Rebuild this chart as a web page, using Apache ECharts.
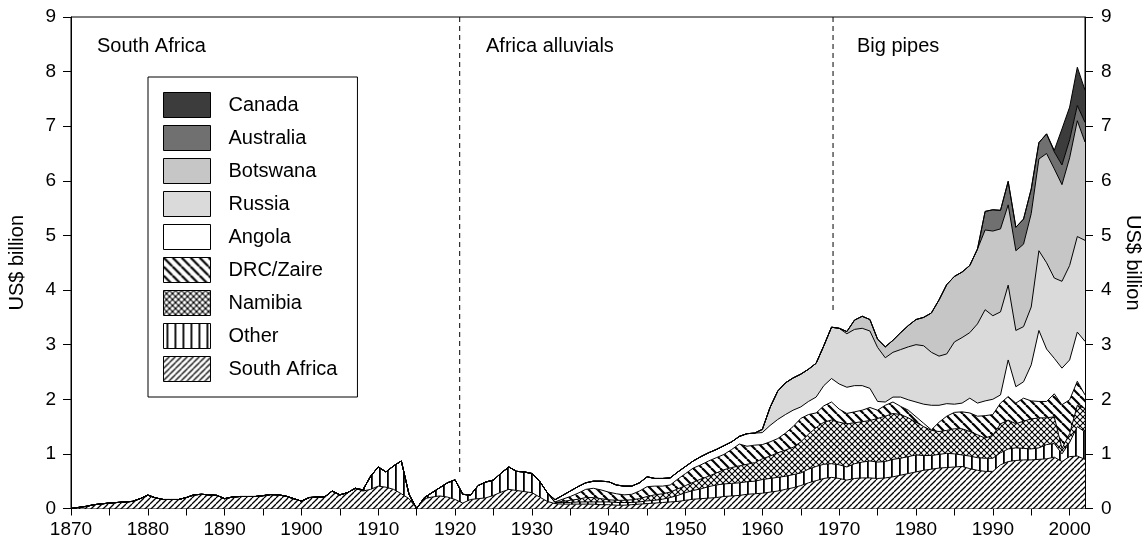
<!DOCTYPE html>
<html>
<head>
<meta charset="utf-8">
<script src="https://cdn.jsdelivr.net/npm/echarts@6/dist/echarts.min.js"></script>
<style>
  html, body { margin: 0; padding: 0; background: #fff; }
  #chart { width: 1144px; height: 547px; }
</style>
</head>
<body>
<div id="chart"></div>
<script>
// ---------------- DATA (US$ billion, annual) ----------------
const firstYear = 1870;
const lastYear = 2002;

const southAfricaStart = 1870;
const southAfrica = [
  0, 0.02, 0.04, 0.07, 0.085, 0.10, 0.11, 0.12, 0.13, 0.18,
  0.245, 0.195, 0.165, 0.165, 0.165, 0.20, 0.25, 0.26, 0.25, 0.24,
  0.18, 0.21, 0.22, 0.22, 0.22, 0.235, 0.255, 0.25, 0.225, 0.18,
  0.135, 0.20, 0.21, 0.21, 0.32, 0.25, 0.29, 0.37, 0.32, 0.35,
  0.41, 0.39, 0.35, 0.27, 0.18, 0.00, 0.18, 0.21, 0.23, 0.21,
  0.165, 0.10, 0.165, 0.18, 0.195, 0.24, 0.30, 0.35, 0.33, 0.31,
  0.29, 0.21, 0.13, 0.09, 0.08, 0.08, 0.08, 0.08, 0.08, 0.07,
  0.07, 0.06, 0.06, 0.07, 0.08, 0.09, 0.10, 0.11, 0.12, 0.13,
  0.15, 0.17, 0.18, 0.19, 0.20, 0.22, 0.23, 0.24, 0.26, 0.27,
  0.28, 0.30, 0.32, 0.35, 0.38, 0.42, 0.47, 0.51, 0.55, 0.57,
  0.55, 0.52, 0.55, 0.56, 0.56, 0.55, 0.56, 0.58, 0.61, 0.64,
  0.67, 0.70, 0.72, 0.74, 0.75, 0.76, 0.77, 0.73, 0.70, 0.68,
  0.68, 0.80, 0.86, 0.88, 0.89, 0.89, 0.90, 0.91, 0.94, 0.86,
  0.95, 0.96, 0.90
];

const otherStart = 1908;
const other = [
  0.02, 0.24, 0.35, 0.28, 0.43, 0.60, 0.08, 0, 0.02, 0.08, 0.15, 0.26,
  0.36, 0.16, 0.08, 0.24, 0.29, 0.28, 0.35, 0.41, 0.35, 0.36,
  0.35, 0.29, 0.16, 0.02, 0.03, 0.03, 0.04, 0.04, 0.04, 0.05,
  0.05, 0.05, 0.05, 0.04, 0.04, 0.05, 0.05, 0.06, 0.08, 0.11,
  0.14, 0.16, 0.18, 0.21, 0.23, 0.23, 0.23, 0.23, 0.23, 0.23,
  0.25, 0.25, 0.25, 0.24, 0.24, 0.23, 0.25, 0.26, 0.26, 0.25,
  0.25, 0.24, 0.27, 0.29, 0.31, 0.30, 0.30, 0.32, 0.31, 0.31,
  0.31, 0.27, 0.25, 0.25, 0.26, 0.24, 0.21, 0.23, 0.23, 0.24,
  0.24, 0.22, 0.23, 0.23, 0.21, 0.20, 0.21, 0.26, 0.25, 0.14,
  0.26, 0.54, 0.50
];

const namibiaStart = 1933;
const namibia = [
  0.00, 0.02, 0.04, 0.05, 0.08, 0.08, 0.06,
  0.04, 0.04, 0.04, 0.05, 0.06, 0.08, 0.10, 0.10, 0.10, 0.12,
  0.13, 0.15, 0.18, 0.19, 0.22, 0.26, 0.29, 0.31, 0.32, 0.34,
  0.38, 0.41, 0.45, 0.48, 0.50, 0.57, 0.64, 0.71, 0.77, 0.80,
  0.78, 0.79, 0.75, 0.74, 0.74, 0.80, 0.83, 0.84, 0.80, 0.71,
  0.60, 0.53, 0.46, 0.42, 0.42, 0.46, 0.48, 0.45, 0.42, 0.37,
  0.42, 0.53, 0.53, 0.44, 0.50, 0.55, 0.55, 0.49, 0.49, 0.10,
  0.16, 0.39, 0.43
];

const drcStart = 1933;
const drc = [
  0.01, 0.04, 0.07, 0.11, 0.15, 0.17, 0.16,
  0.14, 0.12, 0.10, 0.10, 0.14, 0.18, 0.16, 0.14, 0.13, 0.18,
  0.22, 0.26, 0.26, 0.28, 0.28, 0.28, 0.33, 0.40, 0.33, 0.32,
  0.26, 0.26, 0.26, 0.31, 0.38, 0.43, 0.36, 0.27, 0.30, 0.33,
  0.24, 0.19, 0.20, 0.21, 0.24, 0.15, 0.20, 0.21, 0.15, 0.14,
  0.10, 0.06, 0.01, 0.17, 0.26, 0.30, 0.31, 0.34, 0.34, 0.41,
  0.38, 0.38, 0.43, 0.38, 0.42, 0.33, 0.30, 0.30, 0.42, 0.80,
  0.62, 0.44, 0.25
];

const angolaStart = 1933;
const angola = [
  0.04, 0.07, 0.10, 0.12, 0.12, 0.13, 0.16,
  0.19, 0.16, 0.16, 0.15, 0.15, 0.18, 0.14, 0.14, 0.13, 0.13,
  0.13, 0.13, 0.15, 0.15, 0.15, 0.16, 0.14, 0.14, 0.23, 0.22,
  0.22, 0.30, 0.35, 0.34, 0.30, 0.21, 0.24, 0.29, 0.37, 0.43,
  0.46, 0.48, 0.48, 0.45, 0.35, 0.16, 0.06, 0.09, 0.17, 0.19,
  0.27, 0.35, 0.45, 0.31, 0.23, 0.15, 0.16, 0.27, 0.24, 0.27,
  0.28, 0.15, 0.67, 0.30, 0.30, 0.66, 1.30, 0.96, 0.65, 0.67,
  0.73, 0.90, 0.98
];

const russiaStart = 1960;
const russia = [
  0.06, 0.33, 0.52, 0.58, 0.59, 0.60, 0.59, 0.62, 0.73, 0.94,
  1.02, 0.98, 1.03, 1.05, 1.05, 0.99, 0.81, 0.82, 0.87, 0.97,
  1.05, 1.07, 0.97, 0.90, 0.91, 1.14, 1.20, 1.20, 1.45, 1.67,
  1.53, 1.52, 1.37, 1.03, 1.01, 1.06, 1.46, 1.58, 1.47, 1.59,
  1.73, 1.75, 1.85
];

const botswanaStart = 1971;
const botswana = [
  0.04, 0.17, 0.22, 0.21, 0.15, 0.20, 0.22, 0.31, 0.39,
  0.46, 0.52, 0.72, 1.03, 1.27, 1.20, 1.20, 1.23, 1.37, 1.46,
  1.55, 1.52, 1.47, 1.46, 1.51, 1.71, 1.68, 2.00, 2.00, 1.77,
  1.97, 2.12, 1.80
];

const australiaStart = 1989;
const australia = [
  0.34, 0.39, 0.34, 0.43, 0.43, 0.46, 0.45, 0.30, 0.36, 0.31, 0.36,
  0.33, 0.28, 0.36
];

const canadaStart = 1998;
const canada = [0.03, 0.66, 0.60, 0.70, 0.59];

const seriesNames = ['South Africa', 'Other', 'Namibia', 'DRC/Zaire', 'Angola',
                     'Russia', 'Botswana', 'Australia', 'Canada'];
const periodLabels = ['South Africa', 'Africa alluvials', 'Big pipes'];
const periodBreaks = [1920.6, 1969.2];
const periodBreakEnds = [0.64, 3.63];
const axisTitle = 'US$ billion';

// ---------------- helpers ----------------
const years = [];
for (let y = firstYear; y <= lastYear; y++) years.push(String(y));

function fullSeries(start, values) {
  // years before a producer's first recorded year are zero
  return years.map(ys => {
    const i = Number(ys) - start;
    return i >= 0 && i < values.length ? values[i] : 0;
  });
}

function pattern(kind) {
  const c = document.createElement('canvas');
  let s = 6;
  if (kind === 'drc') s = 9;
  if (kind === 'cross') s = 6;
  if (kind === 'vert') s = 8;
  c.width = s; c.height = s;
  const g = c.getContext('2d');
  g.fillStyle = '#fff';
  g.fillRect(0, 0, s, s);
  g.strokeStyle = '#000';
  g.fillStyle = '#000';
  if (kind === 'vert') {
    g.fillRect(3, 0, 1.8, s);
    return { image: c, repeat: 'repeat' };
  }
  const fwd = () => {
    for (let k = -1; k <= 1; k++) { g.beginPath(); g.moveTo(k * s, s); g.lineTo(k * s + s, 0); g.stroke(); }
  };
  const back = () => {
    for (let k = -1; k <= 1; k++) { g.beginPath(); g.moveTo(k * s, 0); g.lineTo(k * s + s, s); g.stroke(); }
  };
  if (kind === 'sa') { g.lineWidth = 1.25; fwd(); }
  if (kind === 'drc') { g.lineWidth = 2.2; back(); }
  if (kind === 'cross') { g.lineWidth = 1.1; fwd(); back(); }
  return { image: c, repeat: 'repeat' };
}

const fills = {
  'South Africa': pattern('sa'),
  'Other': pattern('vert'),
  'Namibia': pattern('cross'),
  'DRC/Zaire': pattern('drc'),
  'Angola': '#ffffff',
  'Russia': '#dadada',
  'Botswana': '#c6c6c6',
  'Australia': '#707070',
  'Canada': '#3c3c3c'
};

const dataByName = {
  'South Africa': fullSeries(southAfricaStart, southAfrica),
  'Other': fullSeries(otherStart, other),
  'Namibia': fullSeries(namibiaStart, namibia),
  'DRC/Zaire': fullSeries(drcStart, drc),
  'Angola': fullSeries(angolaStart, angola),
  'Russia': fullSeries(russiaStart, russia),
  'Botswana': fullSeries(botswanaStart, botswana),
  'Australia': fullSeries(australiaStart, australia),
  'Canada': fullSeries(canadaStart, canada)
};

const FONT = '"Liberation Sans", Arial, Helvetica, sans-serif';

const series = seriesNames.map((name) => ({
  name: name,
  type: 'line',
  stack: 'total',
  xAxisIndex: 0,
  yAxisIndex: 0,
  data: dataByName[name],
  symbol: 'none',
  showSymbol: false,
  silent: true,
  lineStyle: { color: '#000', width: 1 },
  itemStyle: { color: fills[name] },
  areaStyle: { color: fills[name], opacity: 1 },
  emphasis: { disabled: true }
}));

// dashed period separators on a hidden continuous year axis
periodBreaks.forEach((x, i) => {
  series.push({
    type: 'line',
    xAxisIndex: 1,
    yAxisIndex: 0,
    data: [[x, 9], [x, periodBreakEnds[i]]],
    symbol: 'none',
    silent: true,
    lineStyle: { color: '#000', width: 1, type: [5, 4] },
    z: 5
  });
});

const chart = echarts.init(document.getElementById('chart'), null, { renderer: 'canvas' });

const yAxisCommon = {
  type: 'value',
  min: 0, max: 9, interval: 1,
  name: axisTitle,
  nameLocation: 'middle',
  nameTextStyle: { fontFamily: FONT, fontSize: 20, color: '#000' },
  axisLine: { show: true, lineStyle: { color: '#000', width: 1 } },
  axisTick: { show: true, length: 8, lineStyle: { color: '#000' } },
  splitLine: { show: false },
  axisLabel: { fontFamily: FONT, fontSize: 19, color: '#000' }
};

chart.setOption({
  animation: false,
  backgroundColor: '#fff',
  grid: { left: 71, right: 59, top: 17, bottom: 38.5, show: true,
          containLabel: false, outerBoundsMode: 'none',
          borderColor: '#000', borderWidth: 1, backgroundColor: 'transparent' },
  xAxis: [
    {
      type: 'category',
      data: years,
      boundaryGap: false,
      axisLine: { show: true, onZero: false, lineStyle: { color: '#000', width: 1 } },
      axisTick: { show: true, interval: 4, length: 7, lineStyle: { color: '#000' } },
      splitLine: { show: false },
      axisLabel: { fontFamily: FONT, fontSize: 19, color: '#000', margin: 12, interval: 9 }
    },
    {
      type: 'value',
      min: firstYear, max: lastYear,
      show: false
    }
  ],
  yAxis: [
    Object.assign({}, yAxisCommon, { position: 'left', nameGap: 44, nameRotate: 90,
      axisLabel: Object.assign({}, yAxisCommon.axisLabel, { margin: 15 }) }),
    Object.assign({}, yAxisCommon, { position: 'right', nameGap: 38, nameRotate: -90,
      axisLabel: Object.assign({}, yAxisCommon.axisLabel, { margin: 16 }) })
  ],
  legend: {
    orient: 'vertical',
    left: 148, top: 77,
    padding: [15, 20, 15, 15],
    itemWidth: 47, itemHeight: 25, itemGap: 7,
    icon: 'rect',
    borderColor: '#000', borderWidth: 1,
    backgroundColor: '#fff',
    selectedMode: false,
    itemStyle: { borderColor: '#000', borderWidth: 1 },
    textStyle: { fontFamily: FONT, fontSize: 20, color: '#000', padding: [0, 0, 0, 13] },
    data: seriesNames.slice().reverse()
  },
  graphic: [
    { type: 'text', x: 97, y: 46, silent: true,
      style: { text: periodLabels[0], font: '20px ' + FONT, fill: '#000', verticalAlign: 'middle' } },
    { type: 'text', x: 486, y: 46, silent: true,
      style: { text: periodLabels[1], font: '20px ' + FONT, fill: '#000', verticalAlign: 'middle' } },
    { type: 'text', x: 857, y: 46, silent: true,
      style: { text: periodLabels[2], font: '20px ' + FONT, fill: '#000', verticalAlign: 'middle' } }
  ],
  series: series
});
</script>
</body>
</html>
